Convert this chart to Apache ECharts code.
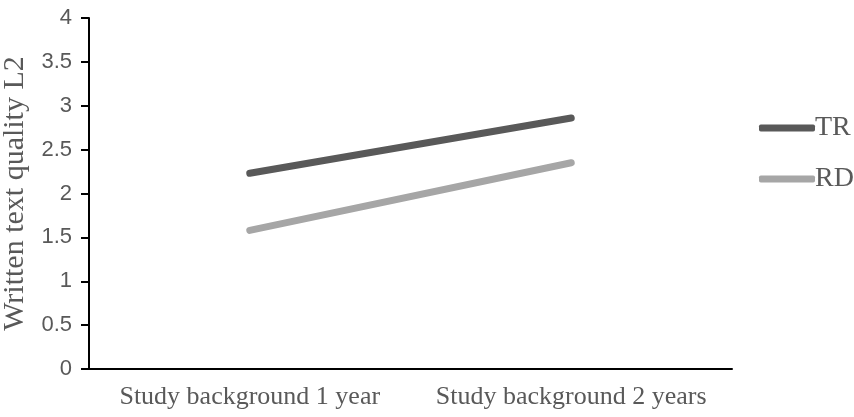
<!DOCTYPE html>
<html><head><meta charset="utf-8">
<script src="https://cdn.jsdelivr.net/npm/echarts@6/dist/echarts.min.js"></script>
<style>html,body{margin:0;padding:0;background:#fff}#c{width:854px;height:417px}</style>
</head><body><div id="c"></div>
<script>
var categories = ['Study background 1 year', 'Study background 2 years'];
var seriesNames = ['TR', 'RD'];
var trValues = [2.23, 2.86];
var rdValues = [1.58, 2.35];
var yTicks = [0, 0.5, 1, 1.5, 2, 2.5, 3, 3.5, 4];

var chart = echarts.init(document.getElementById('c'));
chart.setOption({
  animation: false,
  backgroundColor: '#fff',
  grid: {left: 89, right: 122, top: 18, bottom: 48, containLabel: false, outerBoundsMode: 'none'},
  legend: {
    orient: 'vertical', left: 754, top: 109, itemGap: 23,
    itemWidth: 56, itemHeight: 7, icon: 'roundRect',
    textStyle: {fontFamily: 'Liberation Serif', fontSize: 28, color: '#595959', padding: [0,0,0,-5]},
    data: seriesNames
  },
  xAxis: {
    type: 'category', data: categories, boundaryGap: true,
    axisLine: {lineStyle: {color: '#000', width: 2}},
    axisTick: {show: false},
    axisLabel: {interval: 0, fontFamily: 'Liberation Serif', fontSize: 26, color: '#595959', margin: 15}
  },
  yAxis: {
    type: 'value', min: yTicks[0], max: yTicks[yTicks.length-1], interval: 0.5,
    name: 'Written text quality L2', nameLocation: 'middle', nameGap: 58,
    nameTextStyle: {fontFamily: 'Liberation Serif', fontSize: 30, color: '#595959'},
    axisLine: {show: true, lineStyle: {color: '#000', width: 2}},
    axisTick: {show: true, length: 8, lineStyle: {color: '#000', width: 2}},
    splitLine: {show: false},
    axisLabel: {fontFamily: 'Liberation Sans', fontSize: 22, color: '#595959', margin: 17}
  },
  series: [
    {name: 'TR', type: 'line', data: trValues, symbol: 'none',
     itemStyle: {color: '#595959'},
     lineStyle: {color: '#595959', width: 7, cap: 'round'}},
    {name: 'RD', type: 'line', data: rdValues, symbol: 'none',
     itemStyle: {color: '#a6a6a6'},
     lineStyle: {color: '#a6a6a6', width: 7, cap: 'round'}}
  ]
});
</script></body></html>
